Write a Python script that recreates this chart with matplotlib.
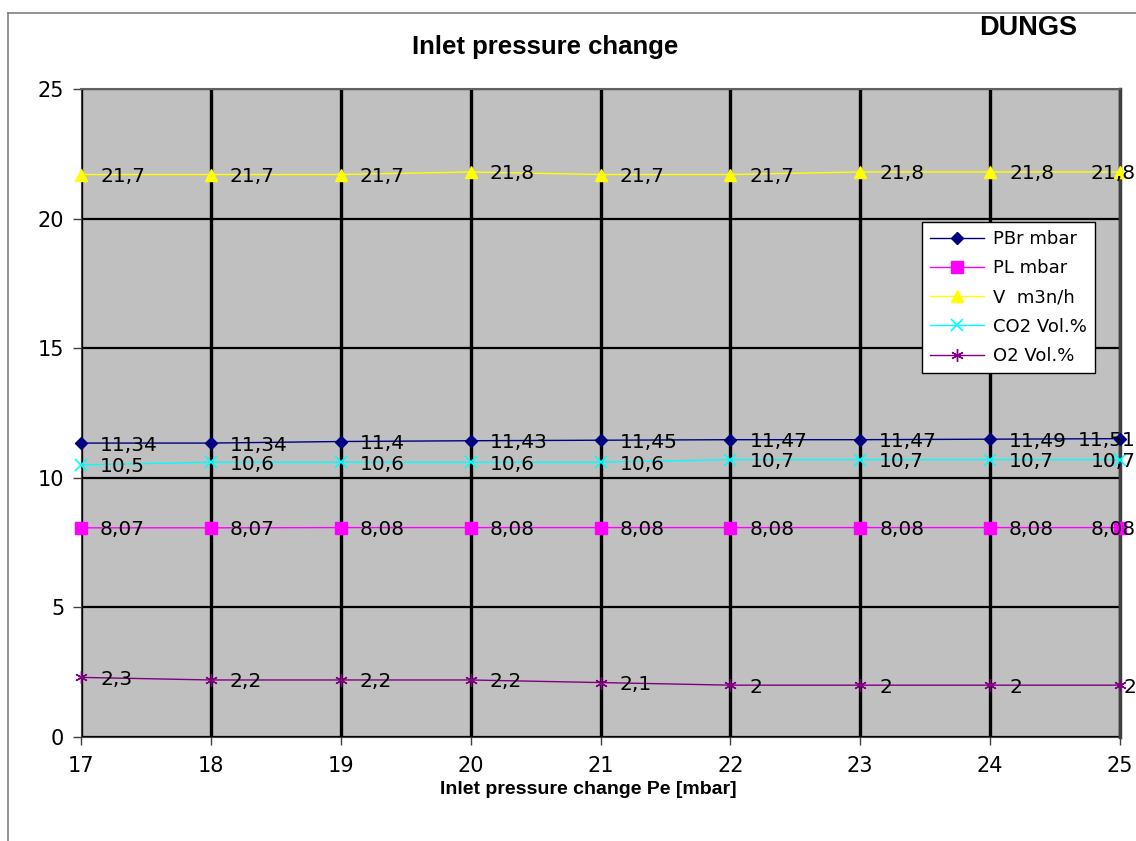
import matplotlib
matplotlib.use("Agg")
import matplotlib.pyplot as plt
from matplotlib.lines import Line2D

x_vals = [17, 18, 19, 20, 21, 22, 23, 24, 25]
pbr = [11.34, 11.34, 11.4, 11.43, 11.45, 11.47, 11.47, 11.49, 11.51]
pl = [8.07, 8.07, 8.08, 8.08, 8.08, 8.08, 8.08, 8.08, 8.08]
v = [21.7, 21.7, 21.7, 21.8, 21.7, 21.7, 21.8, 21.8, 21.8]
co2 = [10.5, 10.6, 10.6, 10.6, 10.6, 10.7, 10.7, 10.7, 10.7]
o2 = [2.3, 2.2, 2.2, 2.2, 2.1, 2, 2, 2, 2]
series_names = ["PBr mbar", "PL mbar", "V  m3n/h", "CO2 Vol.%", "O2 Vol.%"]
y_ticks = [0, 5, 10, 15, 20, 25]

W, H = 1136, 841
fig = plt.figure(figsize=(W / 100, H / 100), dpi=100)
ax = fig.add_axes([81 / W, 1 - 737 / H, (1120 - 81) / W, (737 - 89) / H])
ax.set_facecolor("#c0c0c0")

# outer chart frame
fig.add_artist(Line2D([8 / W, 1.02], [1 - 13 / H, 1 - 13 / H], color="#808080", lw=1.2, transform=fig.transFigure))
fig.add_artist(Line2D([8 / W, 8 / W], [-0.02, 1 - 13 / H], color="#808080", lw=1.2, transform=fig.transFigure))

styles = [
    dict(color="#000080", marker="D", ms=6, mfc="#000080", mec="#000080"),
    dict(color="#ff00ff", marker="s", ms=8, mfc="#ff00ff", mec="#ff00ff"),
    dict(color="#ffff00", marker="^", ms=9, mfc="#ffff00", mec="#ffff00"),
    dict(color="#00ffff", marker="x", ms=8, mew=1.2),
    dict(color="#800080", marker=(6, 2, 0), ms=9, mew=1.0),
]
data = [pbr, pl, v, co2, o2]

lab_font = dict(family="DejaVu Sans", size=14.5, color="black")
for vals, name, st in zip(data, series_names, styles):
    ax.plot(x_vals, vals, lw=1.0, label=name, clip_on=False, zorder=4, **st)
    for i, (xx, yy) in enumerate(zip(x_vals, vals)):
        txt = ("%g" % yy).replace(".", ",")
        if i == len(x_vals) - 1:
            ax.annotate(txt, (xx, yy), xytext=(16, -2), textcoords="offset pixels",
                        ha="right", va="center", zorder=5, annotation_clip=False, **lab_font)
        else:
            ax.annotate(txt, (xx, yy), xytext=(19, -2), textcoords="offset pixels",
                        ha="left", va="center", zorder=5, annotation_clip=False, **lab_font)

ax.set_xlim(17, 25)
ax.set_ylim(0, 25)
ax.set_xticks(x_vals)
ax.set_yticks(y_ticks)
ax.set_xticklabels([str(t) for t in x_vals], fontfamily="DejaVu Sans", fontsize=15)
ax.set_yticklabels([str(t) for t in y_ticks], fontfamily="DejaVu Sans", fontsize=15)
ax.tick_params(axis="both", direction="out", length=6, width=1, color="#404040", pad=6)
ax.tick_params(axis="x", pad=8)

ax.set_axisbelow(True)
ax.xaxis.grid(True, color="black", lw=2.4)
ax.yaxis.grid(True, color="black", lw=1.6)

ax.spines["left"].set_color("#404040")
ax.spines["bottom"].set_color("#404040")
ax.spines["top"].set_color("#606060")
ax.spines["right"].set_color("#404040")
ax.spines["right"].set_linewidth(2.5)
ax.spines["top"].set_linewidth(1.5)

fig.text(545 / W, 1 - 47 / H, "Inlet pressure change", ha="center", va="center",
         fontfamily="Liberation Sans", fontweight="bold", fontsize=18.5)
fig.text(1028 / W, 1 - 28 / H, "DUNGS", ha="center", va="center",
         fontfamily="Liberation Sans", fontweight="bold", fontsize=19.5)
fig.text(588 / W, 1 - 789 / H, "Inlet pressure change Pe [mbar]", ha="center", va="center",
         fontfamily="Liberation Sans", fontweight="bold", fontsize=14)

leg = ax.legend(loc="upper left", bbox_to_anchor=(922 / W, 1 - 222 / H), bbox_transform=fig.transFigure,
                frameon=True, fancybox=False, edgecolor="black", facecolor="white", framealpha=1,
                prop=dict(family="DejaVu Sans", size=13), handlelength=3.0, labelspacing=0.62,
                borderpad=0.45, borderaxespad=0, handletextpad=0.5)
leg.get_frame().set_linewidth(1.0)

fig.savefig("out.png", dpi=100)
